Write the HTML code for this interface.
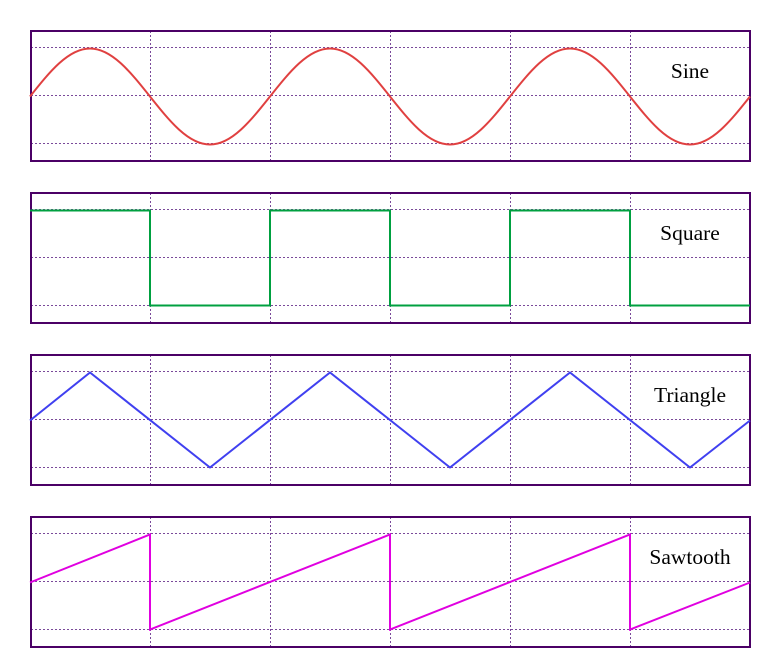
<!DOCTYPE html>
<html><head><meta charset="utf-8"><style>
html,body{margin:0;padding:0;background:#fff;}
svg{display:block;}
text{font-family:"Liberation Serif",serif;font-size:21.5px;fill:#000;}
</style></head><body>
<svg width="780" height="672" viewBox="0 0 780 672" xmlns="http://www.w3.org/2000/svg">
<defs>
<g id="grid">
<g stroke="#7a4a9a" stroke-width="1" stroke-dasharray="2,2" fill="none">
<line x1="31" y1="17.5" x2="749" y2="17.5"/>
<line x1="31" y1="65.5" x2="749" y2="65.5"/>
<line x1="31" y1="113.5" x2="749" y2="113.5"/>
<line x1="150.5" y1="1" x2="150.5" y2="130"/>
<line x1="270.5" y1="1" x2="270.5" y2="130"/>
<line x1="390.5" y1="1" x2="390.5" y2="130"/>
<line x1="510.5" y1="1" x2="510.5" y2="130"/>
<line x1="630.5" y1="1" x2="630.5" y2="130"/>
</g>
<rect x="31" y="1" width="719" height="130" fill="none" stroke="#4b0066" stroke-width="2"/>
</g>
</defs>

<g transform="translate(0,30)"><use href="#grid"/>
<path fill="none" stroke="#e04040" stroke-width="2" d="M30 66.5
c19.57 -24.59 38.29 -48 60 -48 c21.71 0 40.43 23.41 60 48 c19.57 24.59 38.29 48 60 48 c21.71 0 40.43 -23.41 60 -48
c19.57 -24.59 38.29 -48 60 -48 c21.71 0 40.43 23.41 60 48 c19.57 24.59 38.29 48 60 48 c21.71 0 40.43 -23.41 60 -48
c19.57 -24.59 38.29 -48 60 -48 c21.71 0 40.43 23.41 60 48 c19.57 24.59 38.29 48 60 48 c21.71 0 40.43 -23.41 60 -48"/>
<text x="690" y="48" text-anchor="middle">Sine</text>
</g>

<g transform="translate(0,192)"><use href="#grid"/>
<polyline fill="none" stroke="#00a040" stroke-width="2" points="30,18.5 150,18.5 150,113.5 270,113.5 270,18.5 390,18.5 390,113.5 510,113.5 510,18.5 630,18.5 630,113.5 750,113.5"/>
<text x="690" y="48" text-anchor="middle">Square</text>
</g>

<g transform="translate(0,354)"><use href="#grid"/>
<polyline fill="none" stroke="#4040f0" stroke-width="2" points="30,66.5 90,18.5 210,113.5 330,18.5 450,113.5 570,18.5 690,113.5 750,66.5"/>
<text x="690" y="48" text-anchor="middle">Triangle</text>
</g>

<g transform="translate(0,516)"><use href="#grid"/>
<polyline fill="none" stroke="#e000e0" stroke-width="2" points="30,66.5 150,18.5 150,113.5 390,18.5 390,113.5 630,18.5 630,113.5 750,66.5"/>
<text x="690" y="48" text-anchor="middle">Sawtooth</text>
</g>
</svg>
</body></html>
